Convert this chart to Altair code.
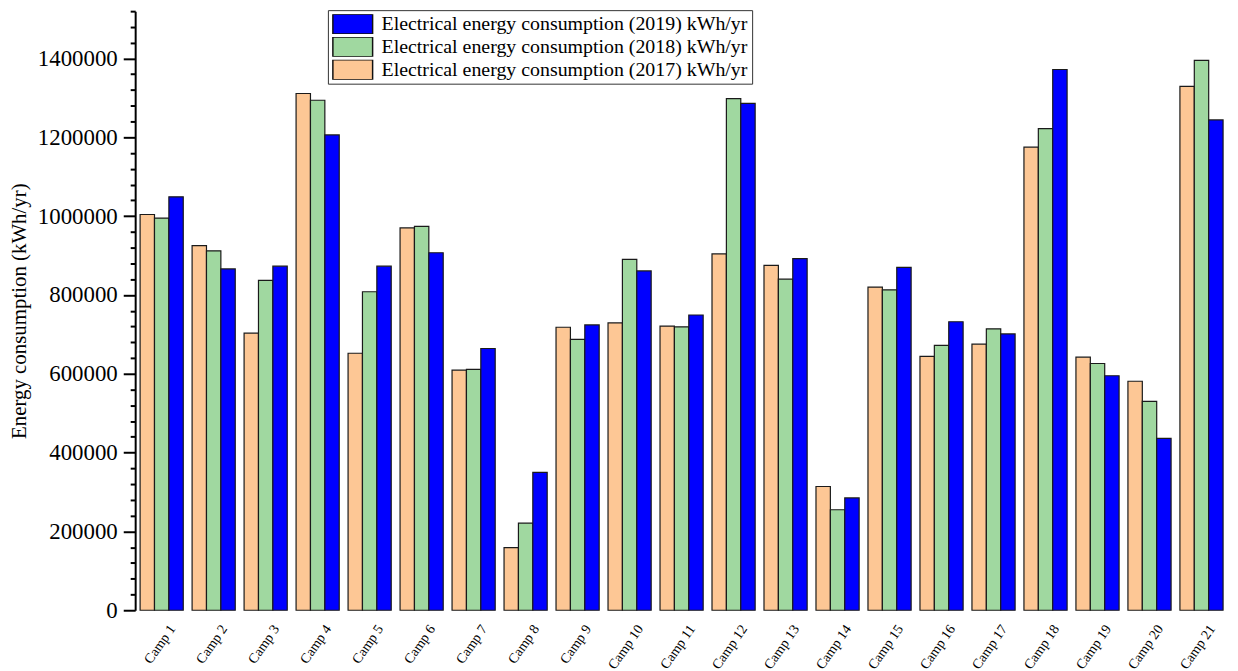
import altair as alt
import pandas as pd

# data (kWh/yr)
camps = [f"Camp {i}" for i in range(1, 22)]
cons_2017 = [1004000, 925000, 703000, 1311000, 652000, 970000, 609000, 159000,
             718000, 729000, 721000, 904000, 875000, 314000, 820000, 644000,
             675000, 1175000, 642000, 581000, 1329000]
cons_2018 = [995000, 912000, 837000, 1294000, 808000, 974000, 611000, 221000,
             687000, 890000, 719000, 1298000, 840000, 255000, 813000, 672000,
             714000, 1222000, 626000, 530000, 1395000]
cons_2019 = [1049000, 866000, 873000, 1206000, 873000, 907000, 664000, 350000,
             724000, 861000, 749000, 1286000, 892000, 285000, 870000, 732000,
             701000, 1372000, 595000, 436000, 1244000]

years = ["2017", "2018", "2019"]
series_names = [f"Electrical energy consumption ({y}) kWh/yr" for y in years]
series_colors = ["#FDC795", "#A0D8A0", "#0000FF"]
y_ticks = list(range(0, 1520001, 40000))

rows = []
for name, vals in zip(series_names, [cons_2017, cons_2018, cons_2019]):
    for camp, v in zip(camps, vals):
        rows.append({"camp": camp, "series": name, "value": v})
df = pd.DataFrame(rows)

FONT = "Liberation Serif"

chart = alt.Chart(df).mark_bar(
    stroke="#1a1a1a", strokeWidth=1.2
).encode(
    x=alt.X("camp:N", sort=camps, title=None,
            scale=alt.Scale(paddingInner=0.17, paddingOuter=0.095),
            axis=alt.Axis(labelAngle=-55, labelFontSize=14, labelFont=FONT,
                          labelColor="black", ticks=False, domain=False,
                          labelPadding=16, labelOffset=11)),
    xOffset=alt.XOffset("series:N", sort=series_names),
    y=alt.Y("value:Q", title="Energy consumption (kWh/yr)",
            scale=alt.Scale(domain=[0, 1520000], nice=False),
            axis=alt.Axis(values=y_ticks, grid=False,
                          labelExpr="datum.value % 200000 === 0 && datum.value <= 1400000 ? datum.value : ''",
                          format="d",
                          tickSize={"condition": {"test": "datum.value % 200000 === 0", "value": 12}, "value": 5},
                          tickColor="black", tickWidth=2, domainColor="black", domainWidth=2,
                          labelFont=FONT, labelFontSize=23, labelColor="black", labelPadding=6,
                          titleFont=FONT, titleFontSize=21, titleFontWeight="normal",
                          titleColor="black", titlePadding=8)),
    fill=alt.Fill("series:N",
                  scale=alt.Scale(domain=series_names[::-1], range=series_colors[::-1]),
                  legend=alt.Legend(title=None, orient="none", legendX=194, legendY=-1,
                                    symbolType="M-1,-1H3V1H-1Z", symbolSize=400,
                                    symbolStrokeColor="#111", symbolStrokeWidth=1.5,
                                    symbolOpacity=1, labelFont=FONT, labelFontSize=20,
                                    labelColor="black", labelLimit=0, labelOffset=28,
                                    clipHeight=20, rowPadding=3, padding=4,
                                    strokeColor="#333", fillColor="white")),
).properties(
    width=1100,
    height=603,
    autosize=alt.AutoSizeParams(type="none"),
    padding={"left": 128, "top": 1, "right": 2, "bottom": 60},
).configure_view(stroke=None)

chart.save("out.html", embed_options={"renderer": "svg", "actions": False})
